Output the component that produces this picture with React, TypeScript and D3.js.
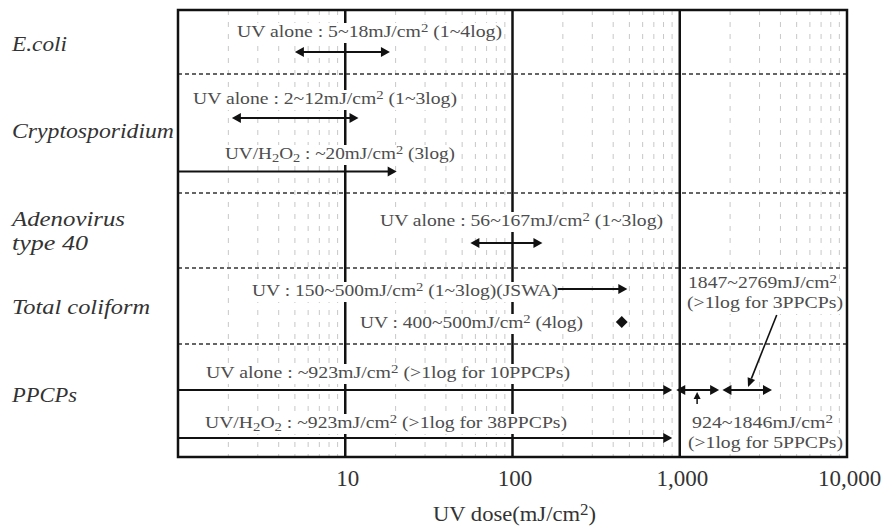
import React, { useEffect, useRef } from 'react';
import * as d3 from 'd3';

// organisms (row labels) down the left side
const organisms = [['E.coli'], ['Cryptosporidium'], ['Adenovirus', 'type 40'], ['Total coliform'], ['PPCPs']];
const organismWidths = [[55], [162], [113, 76], [138], [65]];
const organismBaselines = [[51], [138], [226, 250], [314], [402]];

// x axis
const doseTicks = [10, 100, 1000, 10000];
const majorDoses = [10, 100, 1000];
const decades = [1, 10, 100, 1000];

// dose ranges drawn as arrows (mJ/cm2)
const arrowFrom = [5, 2.1, 1, 56, 186, 1, 953, 1800, 1];
const arrowTo = [18.5, 12, 20.3, 151, 486, 902, 1720, 3560, 902];
const arrowHeads = ['both', 'both', 'end', 'both', 'end', 'end', 'both', 'both', 'end'];
const arrowLane = ['ecoli', 'crypto1', 'crypto2', 'adeno', 'coliform', 'ppcp1', 'ppcp1', 'ppcp1', 'ppcp2'];

// single dose point (diamond)
const pointDose = [450];
const pointLane = ['coliform2'];

// pointer arrows
const pointerFrom = [3800];
const pointerTo = [2560];
const upArrowDose = [1270];

// annotations (^n = superscript, _n = subscript)
const noteTexts = [
  'UV alone : 5~18mJ/cm^2 (1~4log)',
  'UV alone : 2~12mJ/cm^2 (1~3log)',
  'UV/H_2O_2 : ~20mJ/cm^2 (3log)',
  'UV alone : 56~167mJ/cm^2 (1~3log)',
  'UV : 150~500mJ/cm^2 (1~3log)(JSWA)',
  'UV : 400~500mJ/cm^2 (4log)',
  'UV alone : ~923mJ/cm^2  (>1log for 10PPCPs)',
  'UV/H_2O_2 : ~923mJ/cm^2  (>1log for 38PPCPs)',
  '1847~2769mJ/cm^2',
  '(>1log for 3PPCPs)',
  '924~1846mJ/cm^2',
  '(>1log for 5PPCPs)',
];
const noteX = [237, 193, 225, 380, 252, 360, 206, 205, 688, 687, 692, 688];
const noteBaseline = [37, 104, 159, 226, 296, 328, 378, 428, 288, 308, 428, 448];
const noteWidth = [265, 264, 230, 283, 306, 223, 364, 362, 149, 156, 141, 155];

const LANE_Y: Record<string, number> = {
  ecoli: 52, crypto1: 118, crypto2: 171.5, adeno: 243,
  coliform: 289, coliform2: 322, ppcp1: 390, ppcp2: 438,
};
const SEPARATORS = [74, 193, 268, 344];
const FONT = '"Liberation Serif", "Times New Roman", Times, "DejaVu Serif", serif';

const W = 887;
const H = 527;
const LEFT = 178;
const RIGHT = 847;
const TOP = 10;
const BOTTOM = 457;

const addRich = (sel, str) => {
  str.split(/(\^\d|_\d)/).forEach(p => {
    if (!p) return;
    if (p[0] === '^') sel.append('tspan').attr('baseline-shift', '35%').attr('font-size', '75%').text(p.slice(1));
    else if (p[0] === '_') sel.append('tspan').attr('baseline-shift', '-20%').attr('font-size', '75%').text(p.slice(1));
    else sel.append('tspan').text(p);
  });
};

const head = (x, y, dir, len = 9, half = 5) =>
  `M${x},${y}L${x - dir * len},${y - half}L${x - dir * len},${y + half}Z`;

const App = () => {
  const svgRef = useRef(null);

  useEffect(() => {
    const svg = d3.select(svgRef.current);
    svg.selectAll('*').remove();

    const x = d3.scaleLog().domain([1, 10000]).range([LEFT, RIGHT]);

    // minor grid
    const minor = decades.flatMap(d => d3.range(2, 10).map(k => d * k));
    svg.append('g')
      .selectAll('line')
      .data(minor)
      .enter()
      .append('line')
      .attr('x1', d => x(d)).attr('x2', d => x(d))
      .attr('y1', TOP).attr('y2', BOTTOM)
      .attr('stroke', '#c8c8c8')
      .attr('stroke-width', 1)
      .attr('stroke-dasharray', '5,7');

    // major lines
    svg.append('g')
      .selectAll('line')
      .data(majorDoses)
      .enter()
      .append('line')
      .attr('x1', d => x(d)).attr('x2', d => x(d))
      .attr('y1', TOP).attr('y2', BOTTOM)
      .attr('stroke', '#111')
      .attr('stroke-width', 2.5);

    // row separators
    svg.append('g')
      .selectAll('line')
      .data(SEPARATORS)
      .enter()
      .append('line')
      .attr('x1', LEFT).attr('x2', RIGHT)
      .attr('y1', d => d).attr('y2', d => d)
      .attr('stroke', '#333')
      .attr('stroke-width', 1.3)
      .attr('stroke-dasharray', '4,3');

    // annotations with white backgrounds
    const notes = svg.append('g');
    noteTexts.forEach((t, i) => {
      notes.append('rect')
        .attr('x', noteX[i] - 2)
        .attr('y', noteBaseline[i] - 14)
        .attr('width', noteWidth[i] + 4)
        .attr('height', 20)
        .attr('fill', '#fff');
      const txt = notes.append('text')
        .attr('x', noteX[i])
        .attr('y', noteBaseline[i])
        .attr('textLength', noteWidth[i])
        .attr('lengthAdjust', 'spacingAndGlyphs')
        .style('font-family', FONT)
        .style('font-size', '17px')
        .attr('fill', '#4d4d4d');
      addRich(txt, t);
    });

    // range arrows
    const arrows = svg.append('g');
    arrowFrom.forEach((from, i) => {
      const y = LANE_Y[arrowLane[i]];
      const x1 = x(from);
      const x2 = x(arrowTo[i]);
      const both = arrowHeads[i] === 'both';
      arrows.append('line')
        .attr('x1', both ? x1 + 3 : x1).attr('x2', x2 - 3)
        .attr('y1', y).attr('y2', y)
        .attr('stroke', '#111')
        .attr('stroke-width', 2);
      arrows.append('path').attr('d', head(x2, y, 1)).attr('fill', '#111');
      if (both) arrows.append('path').attr('d', head(x1, y, -1)).attr('fill', '#111');
    });

    // diamond
    svg.append('g')
      .selectAll('path')
      .data(pointDose)
      .enter()
      .append('path')
      .attr('d', d3.symbol().type(d3.symbolSquare).size(70))
      .attr('transform', (d, i) => `translate(${x(d)},${LANE_Y[pointLane[i]]}) rotate(45)`)
      .attr('fill', '#111');

    // diagonal pointer
    pointerFrom.forEach((from, i) => {
      const p0 = [x(from), 315];
      const p1 = [x(pointerTo[i]), 387];
      const a = Math.atan2(p1[1] - p0[1], p1[0] - p0[0]);
      const len = 9;
      const half = 4;
      const bx = p1[0] - len * Math.cos(a);
      const by = p1[1] - len * Math.sin(a);
      svg.append('line')
        .attr('x1', p0[0]).attr('y1', p0[1])
        .attr('x2', bx).attr('y2', by)
        .attr('stroke', '#111').attr('stroke-width', 1.6);
      svg.append('path')
        .attr('d', `M${p1[0]},${p1[1]}L${bx - half * Math.sin(a)},${by + half * Math.cos(a)}L${bx + half * Math.sin(a)},${by - half * Math.cos(a)}Z`)
        .attr('fill', '#111');
    });

    // small up arrow
    upArrowDose.forEach(d => {
      const ux = x(d);
      svg.append('line')
        .attr('x1', ux).attr('x2', ux)
        .attr('y1', 404).attr('y2', 398)
        .attr('stroke', '#111').attr('stroke-width', 1.5);
      svg.append('path')
        .attr('d', `M${ux},392L${ux - 3.5},399L${ux + 3.5},399Z`)
        .attr('fill', '#111');
    });

    // frame
    svg.append('rect')
      .attr('x', LEFT).attr('y', TOP)
      .attr('width', RIGHT - LEFT).attr('height', BOTTOM - TOP)
      .attr('fill', 'none')
      .attr('stroke', '#111')
      .attr('stroke-width', 2.5);

    // x axis
    const xAxis = d3.axisBottom(x)
      .tickValues(doseTicks)
      .tickFormat(d3.format(','))
      .tickSize(0)
      .tickPadding(13);
    const axisG = svg.append('g').attr('transform', `translate(0, ${BOTTOM})`).call(xAxis);
    axisG.select('.domain').remove();
    axisG.attr('font-family', null).attr('font-size', null);
    axisG.selectAll('text')
      .attr('dx', 2)
      .style('font-family', FONT)
      .style('font-size', '23px')
      .attr('fill', '#333');

    const title = svg.append('text')
      .attr('x', 433)
      .attr('y', 521)
      .attr('textLength', 163)
      .attr('lengthAdjust', 'spacingAndGlyphs')
      .style('font-family', FONT)
      .style('font-size', '22px')
      .attr('fill', '#333');
    addRich(title, 'UV dose(mJ/cm^2)');

    // row labels
    organisms.forEach((lines, i) => {
      lines.forEach((line, j) => {
        svg.append('text')
          .attr('x', 12)
          .attr('y', organismBaselines[i][j])
          .attr('textLength', organismWidths[i][j])
          .attr('lengthAdjust', 'spacingAndGlyphs')
          .style('font-family', FONT)
          .style('font-style', 'italic')
          .style('font-size', '22px')
          .attr('fill', '#333')
          .text(line);
      });
    });
  }, []);

  return (
    <svg ref={svgRef} width={W} height={H} style={{ position: 'absolute', left: 0, top: 0, background: '#fff' }}></svg>
  );
};

export default App;
